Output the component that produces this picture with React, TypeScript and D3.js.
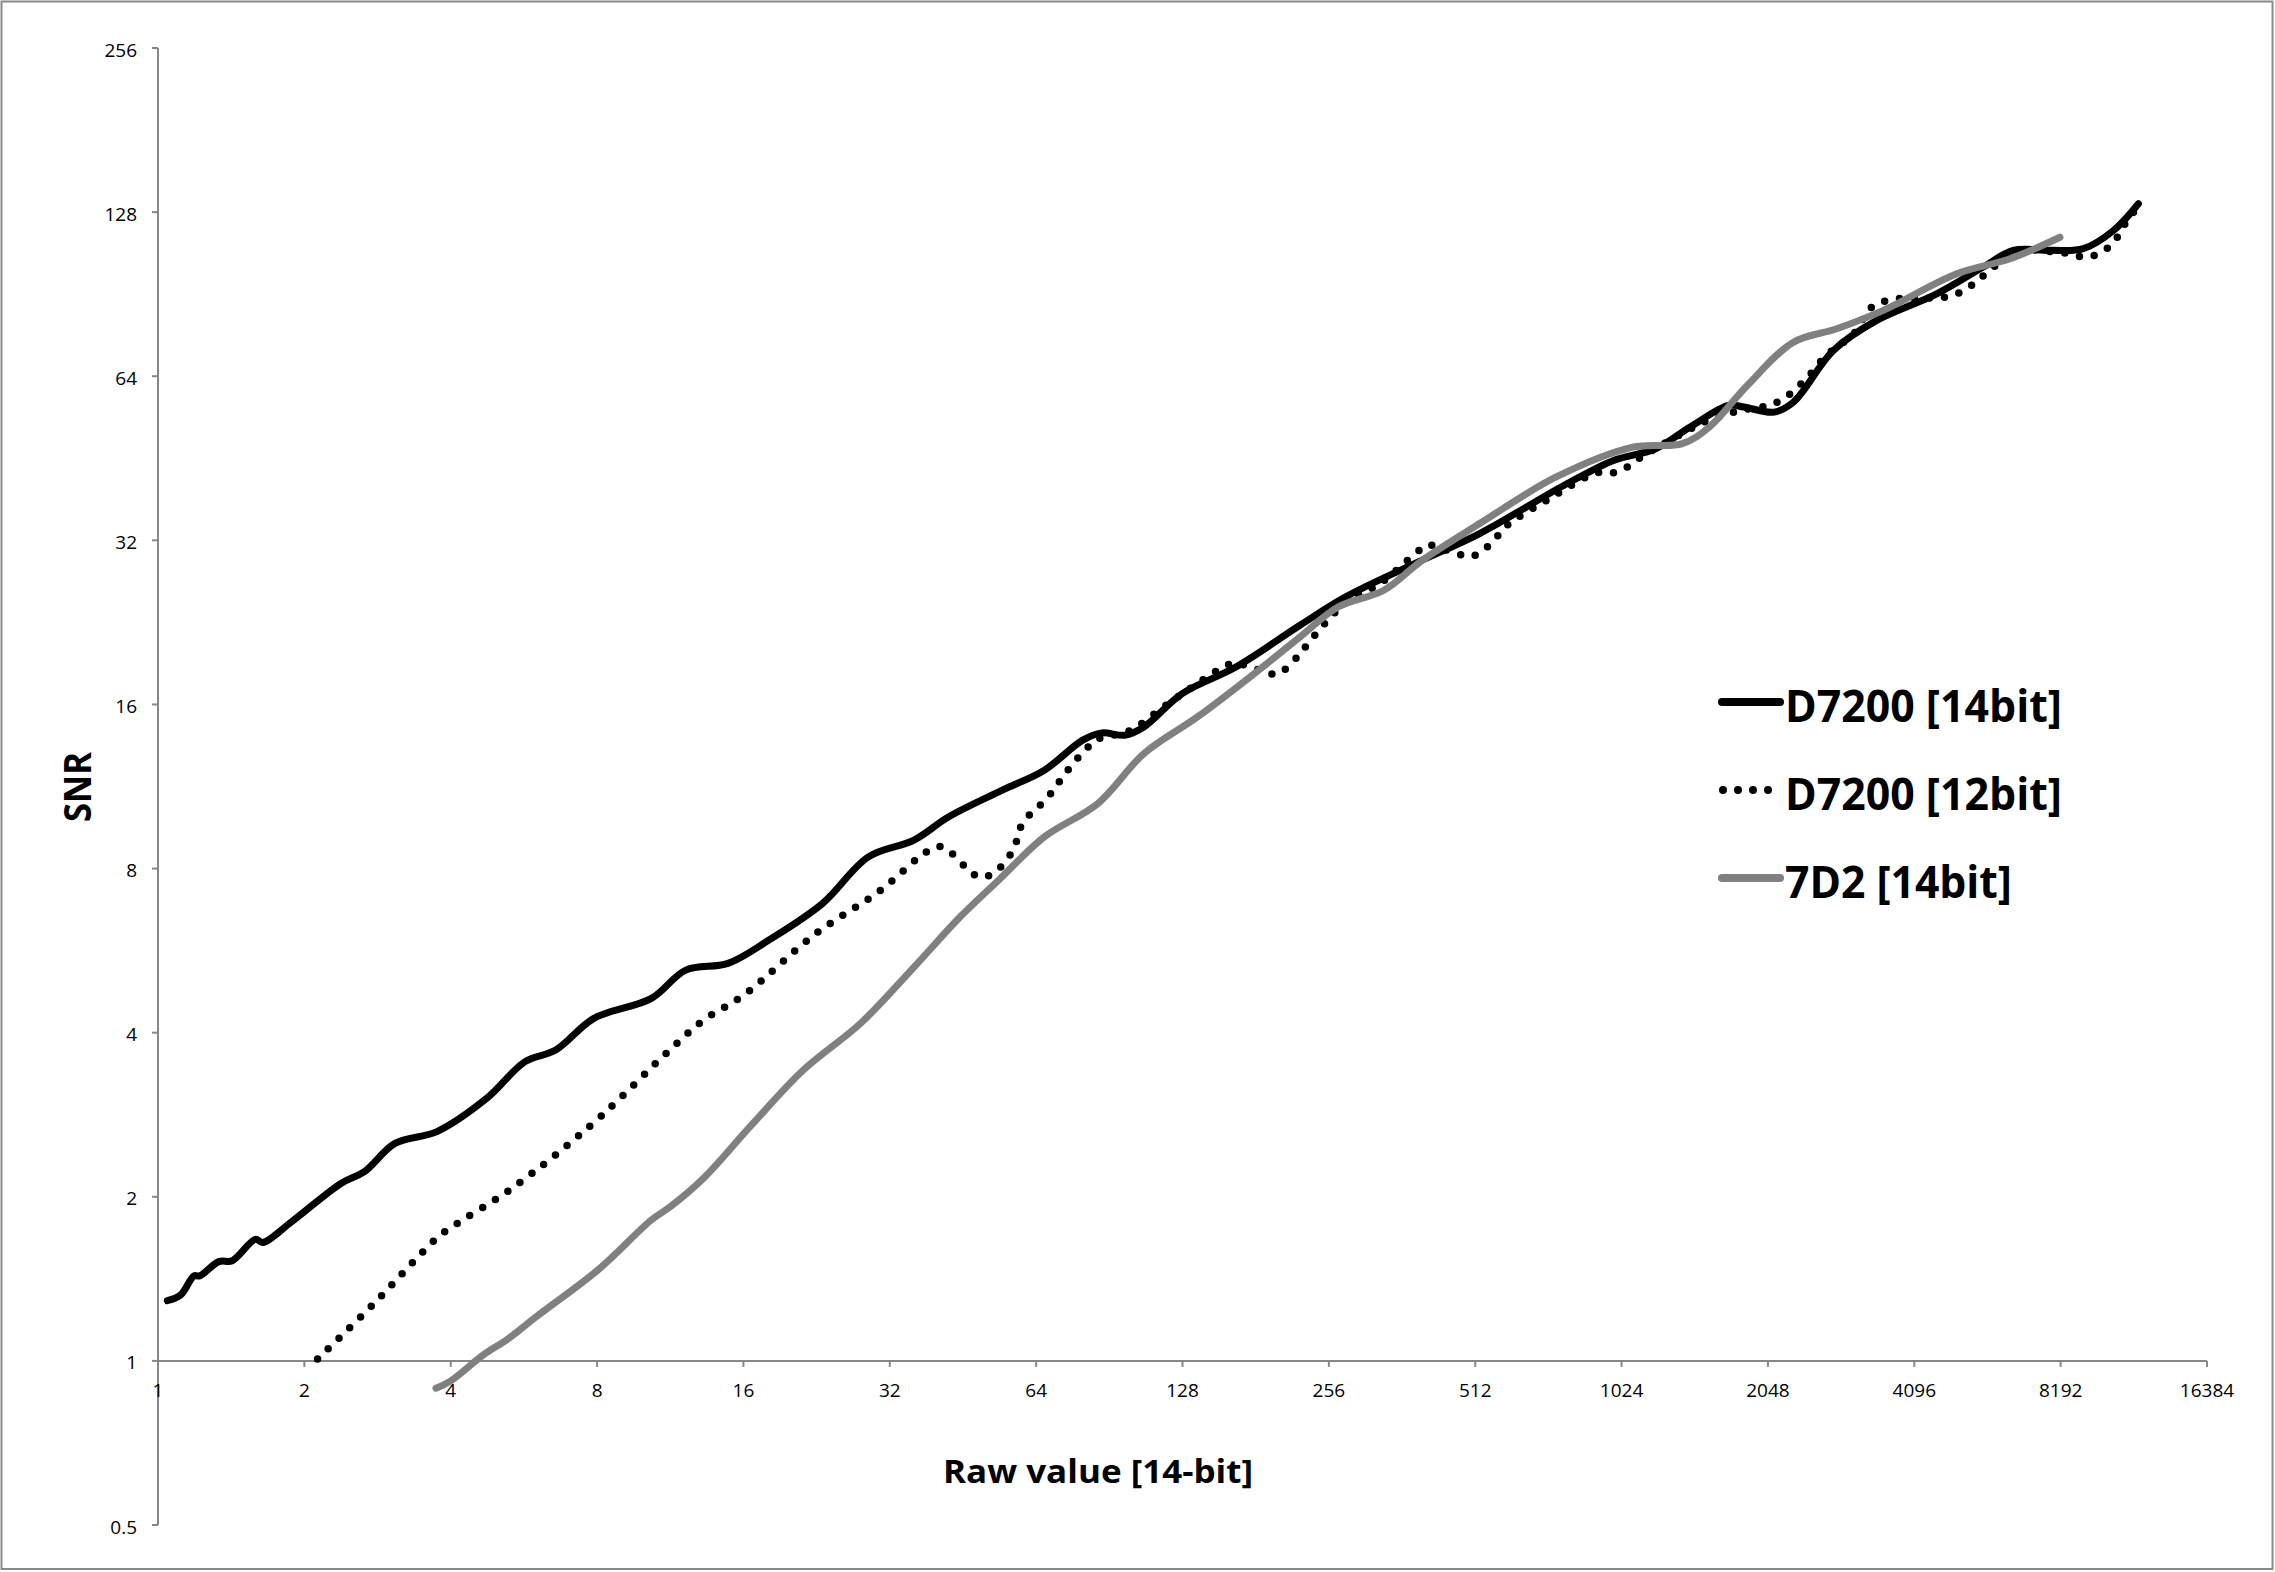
import React from 'react';
import * as d3 from 'd3';

// ---- data ----
const xTickValues = [1, 2, 4, 8, 16, 32, 64, 128, 256, 512, 1024, 2048, 4096, 8192, 16384];
const yTickValues = [0.5, 1, 2, 4, 8, 16, 32, 64, 128, 256];

const seriesNames = ['D7200 [14bit]', 'D7200 [12bit]', '7D2 [14bit]'];

const d7200_14_raw = [1.045, 1.113, 1.186, 1.219, 1.334, 1.422, 1.585, 1.644, 1.883, 2.383, 2.658, 3.072, 3.748, 4.744, 5.689, 6.576, 7.88, 10.35, 12.18, 14.87, 18.05, 23.27, 28.92, 35.88, 42.31, 54.54, 66.54, 79.79, 87.3, 97.35, 106.6, 127.8, 164.8, 223.3, 277.3, 384.3, 522.9, 778.8, 985.8, 1204, 1417, 1699, 1826, 2110, 2311, 2792, 3428, 4555, 5678, 6545, 7789, 9122, 10530, 11838];
const d7200_14_snr = [1.29, 1.321, 1.432, 1.432, 1.521, 1.527, 1.671, 1.649, 1.8, 2.117, 2.224, 2.506, 2.634, 3.031, 3.539, 3.717, 4.249, 4.624, 5.21, 5.36, 5.914, 6.903, 8.405, 9.021, 9.954, 11.14, 12.12, 13.76, 14.19, 14.05, 14.55, 16.75, 18.74, 22.35, 25.2, 29.0, 32.93, 40.34, 44.85, 47.12, 51.63, 56.58, 56.19, 55.0, 57.37, 71.36, 81.02, 90.64, 101.5, 108.9, 108.9, 109.7, 118.5, 132.6];

const d7200_12_raw = [2.129, 2.772, 3.772, 4.031, 5.131, 5.793, 6.525, 8.175, 11.23, 13.26, 16.04, 22.44, 30.53, 38.3, 41.02, 45.93, 48.74, 52.2, 57.37, 60.01, 67.57, 73.83, 81.24, 85.76, 99.2, 118.9, 142.5, 161.8, 187.0, 200.3, 222.1, 233.3, 277.3, 326.3, 384.3, 409.4, 468.9, 504.3, 539.0, 566.9, 595.6, 724.1, 908.4, 980.4, 1051, 1115, 1442, 1543, 1777, 2054, 2195, 2449, 2702, 3085, 3302, 3517, 3793, 4096, 4732, 5064, 5394, 5718, 6654, 7805, 8559, 9186, 9838, 10559, 10886, 11372, 11829];
const d7200_12_snr = [1.008, 1.27, 1.69, 1.763, 2.021, 2.187, 2.375, 2.817, 3.702, 4.22, 4.689, 6.059, 7.281, 8.611, 8.768, 8.039, 7.728, 7.836, 8.647, 9.681, 10.8, 12.02, 13.28, 13.82, 14.29, 15.99, 17.85, 19.01, 18.43, 18.18, 19.7, 20.84, 24.59, 26.65, 30.17, 31.35, 30.26, 29.92, 30.98, 32.45, 34.09, 38.05, 42.52, 42.52, 43.62, 45.29, 51.63, 53.12, 55.26, 56.58, 58.04, 63.17, 69.9, 76.81, 84.75, 87.55, 88.78, 88.97, 89.4, 90.96, 94.23, 98.3, 108.4, 108.4, 107.3, 105.8, 107.6, 112.8, 118.5, 125.3, 131.6];

const c7d2_14_raw = [3.73, 3.986, 4.669, 5.213, 6.005, 8.028, 10.35, 11.33, 13.34, 16.51, 21.25, 27.88, 35.93, 44.67, 53.56, 66.54, 85.76, 106.6, 137.4, 176.2, 223.3, 267.3, 332.3, 398.4, 522.9, 751.2, 1080, 1366, 1551, 1859, 2311, 2837, 3537, 5008, 6446, 8164];
const c7d2_14_snr = [0.891, 0.917, 1.026, 1.093, 1.206, 1.468, 1.814, 1.919, 2.177, 2.689, 3.416, 4.162, 5.282, 6.525, 7.617, 9.146, 10.53, 13.0, 15.18, 17.97, 21.28, 24.15, 25.92, 29.41, 34.35, 41.82, 47.45, 48.14, 51.63, 61.6, 73.9, 78.2, 84.51, 98.65, 105.1, 115.1];

const FONT = "'Open Sans', 'Noto Sans', 'DejaVu Sans', sans-serif";
const AXIS = '#878787';

export default function App() {
  const W = 2275;
  const H = 1572;
  const x = d3.scaleLog().base(2).domain([1, 16384]).range([158, 2207]);
  const y = d3.scaleLog().base(2).domain([0.5, 256]).range([1525, 48]);
  const xAxisY = y(1);

  const line = d3
    .line<[number, number]>()
    .x((d) => x(d[0]))
    .y((d) => y(d[1]))
    .curve(d3.curveCatmullRom.alpha(0.5));

  const zip = (a: number[], b: number[]) => a.map((v, i) => [v, b[i]] as [number, number]);

  const series = [
    { name: seriesNames[0], data: zip(d7200_14_raw, d7200_14_snr), color: '#000000', width: 7, dash: undefined as string | undefined },
    { name: seriesNames[1], data: zip(d7200_12_raw, d7200_12_snr), color: '#000000', width: 7.5, dash: '0 15' },
    { name: seriesNames[2], data: zip(c7d2_14_raw, c7d2_14_snr), color: '#808080', width: 7, dash: undefined as string | undefined },
  ];

  const legendTextLen = [277, 277, 227];

  return (
    <svg
      width={W}
      height={H}
      style={{ position: 'fixed', left: 0, top: 0, background: '#fff' }}
      fontFamily={FONT}
    >
      <rect x={0} y={0} width={W} height={H} fill="#fff" />
      <rect x={1.5} y={1.5} width={2271} height={1567.5} fill="none" stroke="#898989" strokeWidth={2} />

      {/* y axis */}
      <line x1={x(1)} x2={x(1)} y1={y(256)} y2={y(0.5)} stroke={AXIS} strokeWidth={2} />
      {yTickValues.map((t) => (
        <g key={'y' + t}>
          <line x1={x(1) - 6} x2={x(1)} y1={y(t)} y2={y(t)} stroke={AXIS} strokeWidth={2} />
          <text x={137} y={y(t) + 8.5} textAnchor="end" fontSize={19} fill="#000">
            {String(t)}
          </text>
        </g>
      ))}

      {/* x axis (crosses at SNR = 1) */}
      <line x1={x(1)} x2={x(16384)} y1={xAxisY} y2={xAxisY} stroke={AXIS} strokeWidth={2} />
      {xTickValues.map((t) => (
        <g key={'x' + t}>
          <line x1={x(t)} x2={x(t)} y1={xAxisY} y2={xAxisY + 6} stroke={AXIS} strokeWidth={2} />
          <text x={x(t)} y={1397} textAnchor="middle" fontSize={19} fill="#000">
            {String(t)}
          </text>
        </g>
      ))}

      {/* axis titles */}
      <text x={1098} y={1483} textAnchor="middle" fontSize={32} fontWeight="bold" textLength={310} lengthAdjust="spacingAndGlyphs">
        Raw value [14-bit]
      </text>
      <text
        transform={`translate(91, 787) rotate(-90)`}
        textAnchor="middle"
        fontSize={37}
        fontWeight="bold"
        textLength={70}
        lengthAdjust="spacingAndGlyphs"
      >
        SNR
      </text>

      {/* series */}
      {series.map((s) => (
        <path
          key={s.name}
          d={line(s.data) || ''}
          fill="none"
          stroke={s.color}
          strokeWidth={s.width}
          strokeLinecap="round"
          strokeLinejoin="round"
          strokeDasharray={s.dash}
        />
      ))}

      {/* legend */}
      {series.map((s, i) => {
        const ly = 702 + i * 88;
        return (
          <g key={'lg' + i}>
            {s.dash ? (
              <line x1={1723} x2={1769} y1={ly} y2={ly} stroke={s.color} strokeWidth={8} strokeLinecap="round" strokeDasharray="0 15" />
            ) : (
              <line x1={1722} x2={1780} y1={ly} y2={ly} stroke={s.color} strokeWidth={8} strokeLinecap="round" />
            )}
            <text
              x={1785}
              y={ly + 20}
              fontSize={45}
              fontWeight="bold"
              fill="#000"
              textLength={legendTextLen[i]}
              lengthAdjust="spacingAndGlyphs"
            >
              {s.name}
            </text>
          </g>
        );
      })}
    </svg>
  );
}
